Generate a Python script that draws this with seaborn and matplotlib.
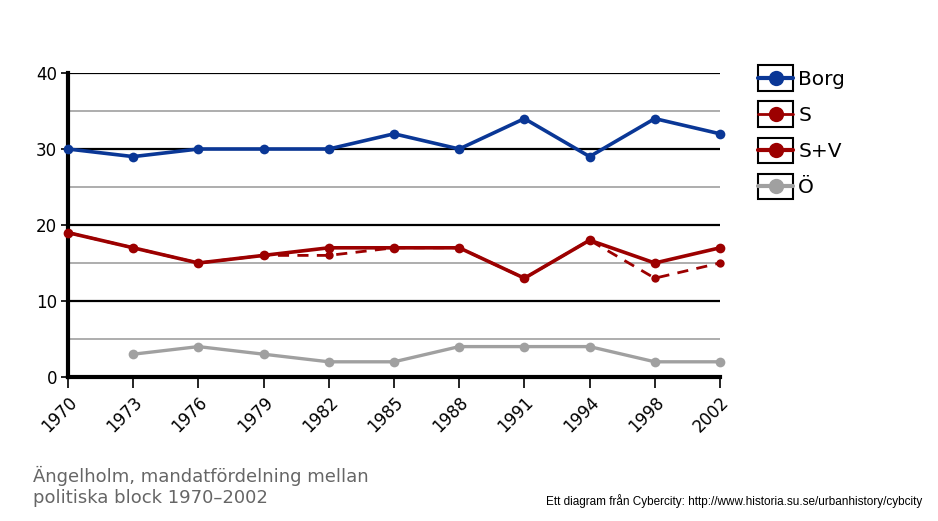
import numpy as np
import pandas as pd
import matplotlib
matplotlib.use("Agg")
import matplotlib.pyplot as plt
import seaborn as sns
from matplotlib.legend_handler import HandlerLine2D
from matplotlib.patches import Rectangle
from matplotlib.lines import Line2D

# DATA
years = ["1970", "1973", "1976", "1979", "1982", "1985", "1988", "1991", "1994", "1998", "2002"]
borg = [30, 29, 30, 30, 30, 32, 30, 34, 29, 34, 32]
s_only = [19, 17, 15, 16, 16, 17, 17, 13, 18, 13, 15]
s_v = [19, 17, 15, 16, 17, 17, 17, 13, 18, 15, 17]
ovr = [np.nan, 3, 4, 3, 2, 2, 4, 4, 4, 2, 2]

BLUE = "#0a3796"
RED = "#9c0000"
GRAY = "#a0a0a0"

df = pd.DataFrame({"pos": range(len(years)), "Borg": borg, "S": s_only, "S+V": s_v, "Ö": ovr})

sns.set_style("white")
plt.rcParams["font.family"] = ["DejaVu Sans"]
plt.rcParams["text.color"] = "black"
plt.rcParams["xtick.color"] = "black"
plt.rcParams["ytick.color"] = "black"

fig = plt.figure(figsize=(9.38, 5.21), dpi=100)
ax = fig.add_axes([68 / 938, 1 - 377 / 521, (720 - 68) / 938, (377 - 73) / 521])

# grid lines
for y in [5, 15, 25, 35]:
    ax.axhline(y, color="#a0a0a0", lw=1.2, zorder=0)
for y in [10, 20, 30, 40]:
    ax.axhline(y, color="black", lw=1.6, zorder=0)

sns.lineplot(data=df, x="pos", y="Ö", ax=ax, color=GRAY, lw=2.4, marker="o",
             markersize=7, markeredgewidth=0, clip_on=False, zorder=3)
sns.lineplot(data=df, x="pos", y="S", ax=ax, color=RED, lw=2.0, marker="o",
             markersize=6, markeredgewidth=0, clip_on=False, zorder=3)
ax.lines[-1].set_dashes([4, 3])
sns.lineplot(data=df, x="pos", y="S+V", ax=ax, color=RED, lw=2.6, marker="o",
             markersize=7, markeredgewidth=0, clip_on=False, zorder=4)
sns.lineplot(data=df, x="pos", y="Borg", ax=ax, color=BLUE, lw=2.6, marker="o",
             markersize=7, markeredgewidth=0, clip_on=False, zorder=4)

ax.set_xlim(0, len(years) - 1)
ax.set_ylim(0, 40)
ax.set_xticks(range(len(years)))
ax.set_xticklabels(years, rotation=45, ha="right", rotation_mode="anchor", fontsize=12)
ax.set_yticks([0, 10, 20, 30, 40])
ax.set_yticklabels(["0", "10", "20", "30", "40"], fontsize=12)
ax.tick_params(axis="x", direction="out", length=8, width=1.2, color="black", pad=4, bottom=True)
ax.tick_params(axis="y", direction="out", length=5, width=1.2, color="black", pad=3, left=True)
ax.set_xlabel("")
ax.set_ylabel("")
for side in ["top", "right"]:
    ax.spines[side].set_visible(False)
ax.spines["left"].set_linewidth(3)
ax.spines["bottom"].set_linewidth(3)
ax.spines["left"].set_color("black")
ax.spines["bottom"].set_color("black")


# legend handles each sit in their own small box
class BoxedHandler(HandlerLine2D):
    def create_artists(self, legend, orig_handle, xdescent, ydescent, width, height, fontsize, trans):
        arts = super().create_artists(legend, orig_handle, xdescent, ydescent, width, height, fontsize, trans)
        box = Rectangle((-xdescent, -ydescent - height * 0.4), width, height * 1.8,
                        facecolor="none", edgecolor="black", lw=1.5, transform=trans)
        return [box] + list(arts)


handles = [
    Line2D([], [], color=BLUE, lw=3, marker="o", markersize=11, markeredgewidth=0),
    Line2D([], [], color=RED, lw=2, marker="o", markersize=11, markeredgewidth=0),
    Line2D([], [], color=RED, lw=3, marker="o", markersize=11, markeredgewidth=0),
    Line2D([], [], color=GRAY, lw=3, marker="o", markersize=11, markeredgewidth=0),
]
labels = ["Borg", "S", "S+V", "Ö"]
leg = fig.legend(handles, labels, loc="upper left", bbox_to_anchor=(750 / 938, 1 - 62 / 521),
                 frameon=False, fontsize=14.5, handlelength=1.75, handletextpad=0.25,
                 labelspacing=0.85, borderaxespad=0,
                 handler_map={Line2D: BoxedHandler(numpoints=1)})

fig.text(33 / 938, 1 - 476 / 521, "Ängelholm, mandatfördelning mellan", fontsize=13,
         color="#666666", va="center")
fig.text(33 / 938, 1 - 498 / 521, "politiska block 1970–2002", fontsize=13,
         color="#666666", va="center")
fig.text(922 / 938, 1 - 501 / 521, "Ett diagram från Cybercity: http://www.historia.su.se/urbanhistory/cybcity",
         fontsize=8.5, color="black", ha="right", va="center", family=["Liberation Sans Narrow", "Liberation Sans"])

fig.savefig("out.png", dpi=100)
